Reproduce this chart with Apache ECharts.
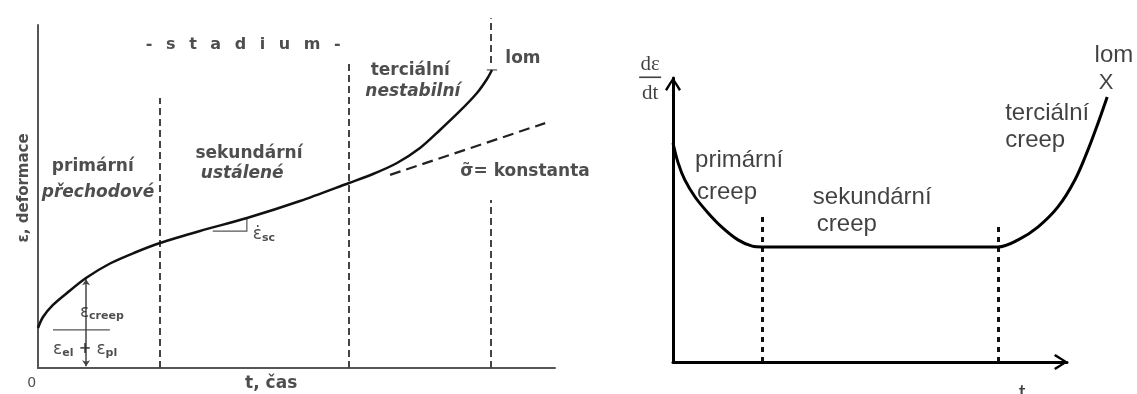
<!DOCTYPE html>
<html><head><meta charset="utf-8">
<script src="https://cdn.jsdelivr.net/npm/echarts@6/dist/echarts.min.js"></script>
<style>html,body{margin:0;padding:0;background:#fff}#c{width:1137px;height:394px}</style>
</head><body><div id="c"></div>
<script>
// ---------- Left panel: creep curve, strain vs time (arbitrary units 0-100) ----------
const creepTime   = [0, 0.97, 2.90, 5.61, 9.28, 13.93, 18.76, 23.60, 31.33, 40.43, 50.68, 60.15, 64.80, 69.44, 73.89, 77.76, 81.62, 84.91, 86.85, 87.81];
const creepStrain = [11.66, 14.87, 18.37, 21.87, 26.24, 30.47, 33.67, 36.44, 39.94, 43.73, 48.69, 53.94, 56.56, 59.77, 64.14, 69.39, 74.93, 80.17, 84.26, 86.88];
const stageX      = [23.6, 60.2, 87.6];          // stage boundaries (time)
const stageTop    = [78.7, 89.8, 49.0];          // top of the dashed boundary lines
const constStress = [[68.1, 56.3], [98.1, 71.4]]; // dashed "σ = konstanta" line
const secSlope    = [[33.8, 39.9], [40.4, 39.9], [40.4, 43.7]]; // slope triangle
const elasticLevel = 11.1, creepMarkX = 9.3, creepMarkTop = 25.9;

// ---------- Right panel: creep rate dε/dt vs time ----------
const rateTime  = [0, 1.3, 3.0, 5.6, 8.9, 12.4, 16.5, 20.1, 22.6, 82.5, 87.6, 92.6, 97.7, 102.0, 105.3, 107.9, 110.2];
const rateValue = [77.1, 70.1, 64.1, 58.1, 52.5, 47.5, 43.0, 40.8, 40.5, 40.5, 43.0, 47.5, 54.6, 64.1, 74.6, 84.2, 93.3];
const rateStageX   = [22.6, 82.5];
const rateStageTop = [51.1, 49.3];

const pairs = (xs, ys) => xs.map((x, i) => [x, ys[i]]);

const LF = 'DejaVu Sans', RF = 'Liberation Sans';
const L = { fontFamily: LF, fontWeight: 'bold', fontSize: 17, color: '#222' };
const LI = Object.assign({}, L, { fontStyle: 'italic' });
const R = { fontFamily: RF, fontSize: 24, color: '#111' };

function note(x, y, text, style, pos) {
  return { value: [x, y], label: Object.assign({ show: true, position: pos || 'inside', distance: 0, formatter: text }, style) };
}
const G = '\u2002 ';
const subRich = {
  g: { fontFamily: LF, fontSize: 17, color: '#222' },
  p: { fontFamily: LF, fontWeight: 'bold', fontSize: 15, color: '#222' },
  s: { fontFamily: LF, fontWeight: 'bold', fontSize: 11, color: '#222', padding: [8, 0, 0, 0] }
};

const leftNotes = [
  note(39.7, 94.2, ['-', 's', 't', 'a', 'd', 'i', 'u', 'm', '-'].join(G), Object.assign({}, L, { fontSize: 16 })),
  note(10.6, 58.6, 'primární', L),
  note(11.6, 51.0, 'přechodové', LI),
  note(40.8, 62.4, 'sekundární', L),
  note(39.5, 56.6, 'ustálené', LI),
  note(72.0, 86.6, 'terciální', L),
  note(72.5, 80.5, 'nestabilní', LI),
  note(93.8, 90.1, 'lom', L),
  note(94.2, 57.2, 'σ̃= konstanta', L),
  note(43.7, 39.0, '{g|ε̇}{s|sc}', { rich: subRich }),
  note(8.1, 16.2, '{g|ε}{s|creep}', { rich: subRich }, 'right'),
  note(2.9, 5.4, '{g|ε}{s|el}{p| + }{g|ε}{s|pl}', { rich: subRich }, 'right'),
  note(-1.2, -4.4, '0', { fontFamily: LF, fontSize: 14, color: '#222' }),
  note(45.1, -4.4, 't, čas', L),
  note(-2.7, 52.5, 'ε, deformace', Object.assign({}, L, { fontSize: 15, rotate: 90 }))
];

const rightNotes = [
  note(5.6, 71.1, 'primární', R, 'right'),
  note(6.1, 59.7, 'creep', R, 'right'),
  note(35.5, 58.1, 'sekundární', R, 'right'),
  note(36.5, 48.4, 'creep', R, 'right'),
  note(84.3, 87.7, 'terciální', R, 'right'),
  note(84.3, 78.2, 'creep', R, 'right'),
  note(109.9, 98.2, 'X', Object.assign({}, R, { fontSize: 22 })),
  note(111.9, 108.1, 'lom', R),
  note(88.6, -11.3, 't', R),
  note(-5.8, 99.2, '{n|dε}\n{bar|}\n{d|dt}', { rich: {
    n: { fontFamily: 'Liberation Serif', fontSize: 21, color: '#111', lineHeight: 20, align: 'center' },
    bar: { width: 22, height: 1.6, backgroundColor: '#111', lineHeight: 6, align: 'center' },
    d: { fontFamily: 'Liberation Serif', fontSize: 21, color: '#111', lineHeight: 26, align: 'center' } } })
];

const arrowPath = 'path://M0,12.5 L8,0 L16,12.5 L14,14 L8,4 L2,14 Z';
const hiddenBits = { axisTick: { show: false }, axisLabel: { show: false }, splitLine: { show: false } };
const rateXMax = 112;   // wider, invisible time axis so the curve can run past the arrow to fracture

const option = {
  animation: false,
  backgroundColor: '#fff',
  grid: [
    { left: 38, top: 25, width: 517, height: 343 },
    { left: 673, top: 78, width: 394, height: 284 },
    { left: 673, top: 78, width: 394 * rateXMax / 100, height: 284 }
  ],
  xAxis: [
    Object.assign({ gridIndex: 0, type: 'value', min: 0, max: 100, axisLine: { show: true, onZero: false, lineStyle: { color: '#555', width: 2 } } }, hiddenBits),
    Object.assign({ gridIndex: 1, type: 'value', min: 0, max: 100, axisLine: { show: true, onZero: false, symbol: ['none', arrowPath], symbolSize: [17, 14], symbolOffset: [0, -6], lineStyle: { color: '#000', width: 3 } } }, hiddenBits),
    Object.assign({ gridIndex: 2, type: 'value', min: 0, max: rateXMax, axisLine: { show: false } }, hiddenBits)
  ],
  yAxis: [
    Object.assign({ gridIndex: 0, type: 'value', min: 0, max: 100, axisLine: { show: true, onZero: false, lineStyle: { color: '#555', width: 2 } } }, hiddenBits),
    Object.assign({ gridIndex: 1, type: 'value', min: 0, max: 100, axisLine: { show: true, onZero: false, symbol: ['none', arrowPath], symbolSize: [17, 14], symbolOffset: [0, -6], lineStyle: { color: '#000', width: 3 } } }, hiddenBits),
    Object.assign({ gridIndex: 2, type: 'value', min: 0, max: 100, axisLine: { show: false } }, hiddenBits)
  ],
  series: [
    // left: stage boundaries
    { type: 'lines', coordinateSystem: 'cartesian2d', xAxisIndex: 0, yAxisIndex: 0, clip: false, silent: true,
      lineStyle: { color: '#444', width: 2, type: [7, 4], opacity: 1 },
      data: stageX.map((x, i) => ({ coords: [[x, 0], [x, stageTop[i]]] }))
        .concat([{ coords: [[stageX[2], 88.9], [stageX[2], 102]] }]) },
    // left: constant stress dashed line
    { type: 'lines', coordinateSystem: 'cartesian2d', xAxisIndex: 0, yAxisIndex: 0, clip: false, silent: true,
      lineStyle: { color: '#222', width: 2.2, type: [11, 6], opacity: 1 },
      data: [{ coords: constStress }] },
    // left: thin helper lines
    { type: 'lines', coordinateSystem: 'cartesian2d', xAxisIndex: 0, yAxisIndex: 0, clip: false, silent: true, polyline: true,
      lineStyle: { color: '#555', width: 1.2, opacity: 1 },
      data: [ { coords: secSlope },
              { coords: [[2.9, elasticLevel], [13.9, elasticLevel]] },
              { coords: [[86.8, 86.9], [88.8, 86.9]] } ] },
    // left: arrows for creep / elastic strain
    { type: 'lines', coordinateSystem: 'cartesian2d', xAxisIndex: 0, yAxisIndex: 0, clip: false, silent: true,
      symbol: ['none', 'arrow'], symbolSize: 6,
      lineStyle: { color: '#444', width: 1.5, opacity: 1 },
      data: [ { coords: [[creepMarkX, elasticLevel], [creepMarkX, creepMarkTop]] },
              { coords: [[creepMarkX, elasticLevel], [creepMarkX, 0.5]] } ] },
    // left: creep curve
    { type: 'line', xAxisIndex: 0, yAxisIndex: 0, data: pairs(creepTime, creepStrain), smooth: 0.3,
      showSymbol: false, clip: false, silent: true, lineStyle: { color: '#111', width: 2.5 } },
    // right: stage boundaries
    { type: 'lines', coordinateSystem: 'cartesian2d', xAxisIndex: 1, yAxisIndex: 1, clip: false, silent: true,
      lineStyle: { color: '#111', width: 3, type: [5, 5], opacity: 1 },
      data: rateStageX.map((x, i) => ({ coords: [[x, 0], [x, rateStageTop[i]]] })) },
    // right: creep-rate curve
    { type: 'line', xAxisIndex: 2, yAxisIndex: 2, data: pairs(rateTime, rateValue), smooth: 0.35,
      showSymbol: false, clip: false, silent: true, lineStyle: { color: '#000', width: 3 } },
    // annotations
    { type: 'scatter', xAxisIndex: 0, yAxisIndex: 0, symbolSize: 0, clip: false, silent: true, data: leftNotes },
    { type: 'scatter', xAxisIndex: 1, yAxisIndex: 1, symbolSize: 0, clip: false, silent: true, data: rightNotes }
  ]
};
const chart = echarts.init(document.getElementById('c'), null, { renderer: 'canvas' });
chart.setOption(option);
</script></body></html>
